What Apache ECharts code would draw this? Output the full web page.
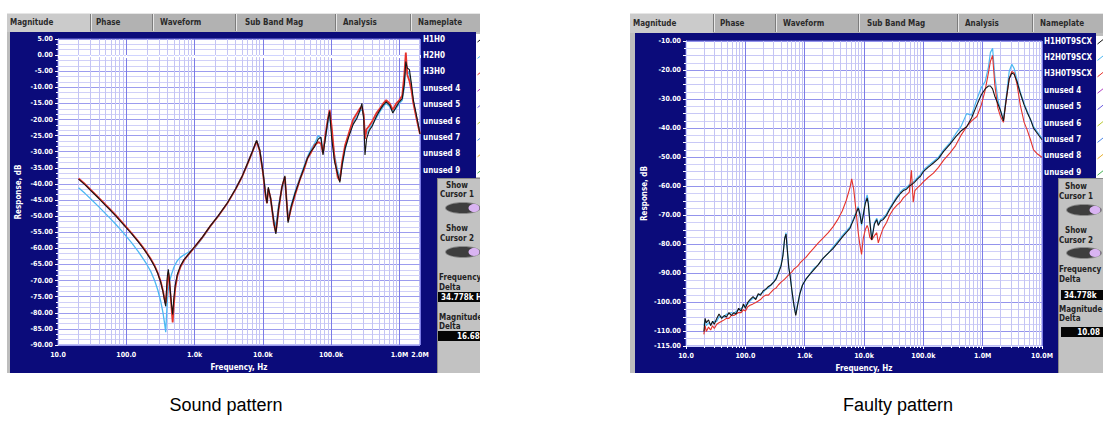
<!DOCTYPE html>
<html><head><meta charset="utf-8">
<script src="https://cdn.jsdelivr.net/npm/echarts@6/dist/echarts.min.js"></script>
<style>html,body{margin:0;padding:0;background:#fff}#c{width:1103px;height:425px}</style>
</head><body><div id="c"></div>
<script>
// ---------------- DATA ----------------
const tabNames = ['Magnitude', 'Phase', 'Waveform', 'Sub Band Mag', 'Analysis', 'Nameplate'];
const soundLegend = ['H1H0', 'H2H0', 'H3H0', 'unused 4', 'unused 5', 'unused 6', 'unused 7', 'unused 8', 'unused 9'];
const faultyLegend = ['H1H0T9SCX', 'H2H0T9SCX', 'H3H0T9SCX', 'unused 4', 'unused 5', 'unused 6', 'unused 7', 'unused 8', 'unused 9'];
const captions = ['Sound pattern', 'Faulty pattern'];
const cursorTexts = ['Show', 'Cursor 1', 'Cursor 2', 'Frequency', 'Magnitude', 'Delta'];
const soundReadouts = ['34.778k Hz', '16.68 dB'];
const faultyReadouts = ['34.778k', '10.08'];

const soundXTickValues = [10, 100, 1000, 10000, 100000, 1000000, 2000000];
const soundXTickLabels = ['10.0', '100.0', '1.0k', '10.0k', '100.0k', '1.0M', '2.0M'];
const faultyXTickValues = [10, 100, 1000, 10000, 100000, 1000000, 10000000];
const faultyXTickLabels = ['10.0', '100.0', '1.0k', '10.0k', '100.0k', '1.0M', '10.0M'];
const soundYTickValues = [5, 0, -5, -10, -15, -20, -25, -30, -35, -40, -45, -50, -55, -60, -65, -70, -75, -80, -85, -90];
const soundYTickLabels = ['5.00', '0.00', '-5.00', '-10.00', '-15.00', '-20.00', '-25.00', '-30.00', '-35.00', '-40.00', '-45.00', '-50.00', '-55.00', '-60.00', '-65.00', '-70.00', '-75.00', '-80.00', '-85.00', '-90.00'];
const faultyYTickValues = [-10, -20, -30, -40, -50, -60, -70, -80, -90, -100, -110, -115];
const faultyYTickLabels = ['-10.00', '-20.00', '-30.00', '-40.00', '-50.00', '-60.00', '-70.00', '-80.00', '-90.00', '-100.00', '-110.00', '-115.00'];

// Sound pattern (Hz, dB)
const soundFreq = [20,25,30,40,50,60,70,85,100,120,
 150,180,200,230,260,290,320,345,365,378,
 390,400,412,425,440,460,478,495,520,560,
 620,700,800,1000,1300,1700,2200,3000,4000,5000,
 6000,7000,8100,9000,10000,11000,11500,12000,13000,14500,
 15500,17000,19000,21000,23400,26000,30000,35000,40000,45000,
 50000,57000,65000,71000,76000,82000,90000,95000,102000,112000,
 125000,134000,145000,160000,180000,210000,240000,265000,282000,300000,
 313000,330000,360000,400000,460000,520000,580000,640000,720000,800000,
 900000,1000000,1100000,1180000,1240000,1300000,1400000,1500000,1600000,1750000,
 1900000,2000000];
const soundH1 = [-38.5,-40.3,-42.0,-44.6,-46.7,-48.4,-49.9,-51.9,-53.6,-55.5,
 -58.0,-60.2,-61.6,-63.6,-65.6,-67.9,-70.6,-73.5,-76.5,-78.0,
 -72.0,-68.5,-66.5,-69.0,-73.0,-77.5,-80.5,-76.0,-71.5,-68.0,
 -65.5,-63.5,-62.0,-59.5,-56.5,-53.0,-50.0,-46.0,-41.5,-37.5,
 -33.5,-30.0,-26.5,-29.5,-36.0,-43.5,-46.0,-41.0,-44.5,-52.0,
 -55.5,-47.5,-41.0,-37.5,-52.0,-47.0,-42.5,-38.5,-35.0,-32.0,
 -30.0,-28.5,-26.0,-25.5,-31.0,-26.0,-20.0,-17.5,-26.0,-33.0,
 -37.0,-39.5,-34.0,-29.0,-25.5,-21.5,-19.5,-17.0,-15.0,-20.0,
 -31.0,-26.0,-23.5,-22.0,-19.0,-17.0,-15.5,-14.5,-15.5,-18.0,
 -16.0,-14.5,-13.5,-9.0,-2.0,-4.0,-4.5,-9.0,-14.0,-18.0,
 -22.0,-24.5];
const soundH2 = [-41.2,-43.0,-44.6,-47.2,-49.3,-51.0,-52.5,-54.5,-56.3,-58.3,
 -61.0,-63.5,-65.0,-67.3,-70.0,-73.0,-76.5,-80.0,-83.5,-86.0,
 -80.0,-76.0,-73.0,-71.0,-69.5,-68.0,-67.0,-66.0,-65.0,-63.8,
 -62.8,-62.0,-61.3,-60.0,-56.8,-53.2,-50.1,-46.0,-41.4,-37.4,
 -33.4,-29.9,-26.5,-29.3,-35.5,-43.0,-45.0,-42.0,-45.0,-51.0,
 -53.0,-46.5,-41.5,-39.0,-50.5,-46.5,-42.0,-38.0,-34.5,-31.5,
 -29.5,-27.5,-25.0,-26.0,-29.5,-26.5,-21.0,-19.0,-24.5,-31.0,
 -36.0,-38.0,-34.5,-29.5,-25.0,-21.0,-19.0,-17.5,-16.5,-19.0,
 -24.0,-24.5,-23.0,-21.5,-19.5,-17.5,-16.0,-15.0,-16.0,-17.5,
 -16.5,-15.0,-14.0,-10.0,-3.0,-5.0,-6.0,-10.0,-14.5,-18.5,
 -22.0,-24.5];
const soundH3 = [-38.3,-40.1,-41.8,-44.4,-46.5,-48.2,-49.7,-51.7,-53.4,-55.3,
 -57.8,-60.0,-61.4,-63.4,-65.4,-67.7,-70.4,-73.2,-76.0,-77.0,
 -74.0,-70.5,-67.5,-69.5,-73.5,-78.5,-83.0,-78.0,-72.5,-68.5,
 -65.8,-63.7,-62.1,-59.6,-56.6,-53.1,-50.1,-46.1,-41.6,-37.6,
 -33.6,-30.1,-26.7,-29.8,-36.3,-44.0,-46.0,-41.5,-44.5,-52.5,
 -55.0,-48.0,-41.0,-37.8,-51.5,-47.5,-43.0,-38.5,-35.5,-32.0,
 -30.5,-28.0,-27.0,-27.5,-30.5,-25.0,-19.5,-17.0,-22.5,-32.0,
 -38.0,-39.0,-33.0,-28.0,-24.5,-20.0,-18.0,-16.5,-16.0,-18.5,
 -26.0,-23.0,-22.0,-20.5,-18.0,-16.5,-15.0,-14.0,-15.0,-17.0,
 -15.0,-14.0,-12.5,-6.0,0.8,-6.0,-8.0,-11.0,-15.0,-19.0,
 -22.5,-24.5];

// Faulty pattern (Hz, dB)
const faultyFreq = [20,21,22,24,26,28,30,33,36,40,
 44,48,53,58,64,70,77,85,93,100,
 110,120,135,150,165,180,200,220,245,270,
 300,330,360,400,430,460,485,510,540,570,
 610,660,708,760,830,920,1050,1200,1400,1700,
 2000,2500,3000,3600,4300,5000,5800,6200,6700,7300,
 8000,8500,9100,9700,10500,11300,11800,12500,13500,15000,
 16400,17400,19000,21000,24000,27000,31000,36000,41000,46000,
 52000,58000,63000,67500,72000,80000,90000,100000,120000,148000,
 180000,220000,282000,350000,430000,537000,650000,800000,950000,1100000,
 1250000,1350000,1470000,1600000,1800000,2000000,2240000,2500000,2800000,3100000,
 3400000,3800000,4300000,5000000,5600000,6400000,7200000,8500000,10000000];
const faultyH1 = [-110,-105.5,-107,-106,-108,-106.5,-107.5,-105.5,-104,-105.5,
 -104.5,-105,-103.5,-104.5,-103.5,-104,-102,-103,-100.5,-102,
 -100,-99,-98,-99,-97,-97.5,-96,-95.5,-94.5,-94,
 -93,-92,-90,-87.5,-84,-78,-76.5,-82,-88,-91,
 -96,-101,-104.5,-101,-97,-94,-92,-90.5,-89,-87,
 -85,-83,-81.5,-79.5,-77.5,-76,-74.5,-73,-71.5,-69.5,
 -67.5,-69.5,-73,-70,-66,-64,-66,-72,-78.5,-73,
 -71.5,-73.5,-72,-71.5,-70,-68,-66,-64,-62.5,-61.5,
 -61,-60,-59.5,-59,-58.5,-57.5,-56.5,-55,-53.5,-52,
 -50.5,-48,-45.5,-43,-41,-39.5,-36.5,-32,-28.5,-26.5,
 -25.5,-25.5,-26.5,-29,-31.5,-34,-37.5,-30,-23,-21,
 -21.5,-24,-28,-32,-34.5,-37,-40,-42,-44];
const faultyH2 = [-108,-106,-108,-107,-107.5,-107,-106.5,-106.5,-105,-105,
 -105,-104,-104,-103.5,-104,-103,-102.5,-102,-101.5,-101,
 -100.5,-99.5,-98.5,-98.5,-97.5,-97,-96.5,-95.5,-95,-94,
 -93,-91.5,-89.5,-87,-83.5,-78,-76,-81.5,-88,-91,
 -96,-101,-104,-100.5,-97,-94,-92,-90.5,-88.5,-87,
 -85,-83,-81,-79,-77,-75.5,-74,-72.5,-71,-69,
 -67,-69,-73.5,-69.5,-65.5,-63,-65,-71.5,-78,-72.5,
 -71,-73,-71.5,-71,-69.5,-67.5,-65.5,-63.5,-62,-61,
 -60.5,-59.5,-59,-58.5,-58,-57,-56,-54.5,-53,-51.5,
 -50,-47.5,-45,-42,-39.5,-35,-35.5,-30,-26,-24,
 -19,-14,-12.5,-22,-30,-34,-37,-29,-20.5,-18,
 -19.5,-23.5,-27.5,-31.5,-34,-37,-39.5,-41.5,-43.5];
const faultyH3 = [-111,-108,-110,-108.5,-109.5,-108,-109,-107.5,-107,-106.5,
 -106,-105.5,-105.5,-104.5,-104.5,-104,-103.5,-103.5,-102.5,-103,
 -101.5,-101,-100.5,-100,-99.5,-99,-98,-97.5,-97.5,-96.5,
 -95.5,-95,-94,-93,-92.5,-92,-91.5,-91,-90.5,-90,
 -89.5,-88.5,-88,-87.5,-86.5,-85.5,-84.5,-83,-81.5,-79.5,
 -78,-76,-74,-71.5,-68.5,-65,-60.5,-57.5,-61,-68,
 -76,-80,-83.5,-78,-75,-73.5,-74.5,-77.5,-78.5,-77,
 -76,-79.5,-77,-74.5,-72.5,-70,-68,-66.5,-65.5,-64,
 -63,-62,-54.5,-65.5,-61.5,-60.5,-59.5,-58.5,-57,-55.5,
 -53.5,-51,-48.5,-46,-42.5,-39.5,-37.5,-36,-32,-27,
 -21,-17,-15,-25,-33,-36,-38,-30,-23,-20.5,
 -21,-25,-32,-38,-40.5,-44,-47.5,-49,-50];

// ---------------- STYLE / LAYOUT ----------------
const FONT = '"DejaVu Sans Condensed","DejaVu Sans",sans-serif';
const NAVY = '#0b0b7a';
const FRAME = '#bdbdbd';
const C_BLACK = '#151515', C_BLUE = '#4cb8f2', C_RED = '#e5332c';
const legendIconColors = ['#111', '#4cb8f2', '#e5332c', '#b040c0', '#6a5ae0', '#b8c830', '#4a86e8', '#e8b030', '#40b050'];

const layouts = [
  { fx: 7, right: 480, tabTop: 13, tabBot: 32, navyX: 10, legendRight: 476, panelX: 437, bottom: 373, selRight: 90,
    tabX: [10, 96, 160, 245, 343, 418], seps: [90, 152, 235, 335, 410],
    legX: 423, legY0: 39, iconX: 476,
    cx: 457, ovalCx: 463, ovalY: [208, 252], showY: [185, 228], curY: [194, 238],
    textX: 439, freqY: [277, 287], boxY: [292, 331], magY: [317, 326], boxX: 438,
    readX: [441, 493], readout: soundReadouts, caption: captions[0], capX: 226 },
  { fx: 630, right: 1103, tabTop: 13, tabBot: 33, navyX: 635, legendRight: 1096, panelX: 1058, bottom: 373, selRight: 713,
    tabX: [633, 720, 783, 867, 965, 1040], seps: [713, 775, 858, 957, 1032],
    legX: 1044, legY0: 41, iconX: 1096,
    cx: 1076, ovalCx: 1084, ovalY: [210, 253], showY: [186, 230], curY: [196, 240],
    textX: 1059, freqY: [269, 279], boxY: [290, 327], magY: [309, 318], boxX: 1061,
    readX: [1064, 1100], readout: faultyReadouts, caption: captions[1], capX: 898 }
];

const G = [];
function R(x, y, w, h, fill, z) { G.push({ type: 'rect', silent: true, z: z === undefined ? -20 : z, shape: { x, y, width: w, height: h }, style: { fill } }); }
function T(x, y, s, o) {
  o = o || {};
  G.push({ type: 'text', silent: true, z: o.z === undefined ? 20 : o.z, x, y,
    style: { text: s, fill: o.fill || '#fff', font: o.font || ('bold 8px ' + FONT),
      textAlign: o.align || 'left', align: o.align || 'left', textVerticalAlign: 'middle', verticalAlign: 'middle' } });
}
function L(x1, y1, x2, y2, stroke, w, z) { G.push({ type: 'line', silent: true, z: z === undefined ? -15 : z, shape: { x1, y1, x2, y2 }, style: { stroke, lineWidth: w || 1 } }); }
function E(cx, cy, rx, ry, fill) { G.push({ type: 'ellipse', silent: true, z: -14, shape: { cx, cy, rx, ry }, style: { fill } }); }

layouts.forEach((p, k) => {
  const legend = k === 0 ? soundLegend : faultyLegend;
  // frame and tab bar
  R(p.fx, p.tabTop, p.right - p.fx, p.bottom - p.tabTop, FRAME, -30);
  R(p.fx, p.tabTop, p.right - p.fx, p.tabBot - p.tabTop, '#b2b2b2', -29);
  R(p.fx, p.tabTop, p.selRight - p.fx, p.tabBot - p.tabTop, '#cbcbcb', -28);
  L(p.fx, p.tabTop + 0.5, p.right, p.tabTop + 0.5, '#e6e6e6', 1, -27);
  p.seps.forEach(s => { L(s + 0.5, p.tabTop + 1, s + 0.5, p.tabBot - 1, '#7c7c7c', 1, -27); L(s + 1.5, p.tabTop + 1, s + 1.5, p.tabBot - 1, '#e8e8e8', 1, -27); });
  tabNames.forEach((t, i) => T(p.tabX[i], (p.tabTop + p.tabBot) / 2, t, { fill: '#2a2a2a' }));
  // navy background
  R(p.navyX, p.tabBot, p.legendRight - p.navyX, 178 - p.tabBot, NAVY, -25);
  R(p.navyX, p.tabBot, p.panelX - p.navyX, p.bottom - p.tabBot, NAVY, -25);
  R(p.panelX, 178, p.right - p.panelX, p.bottom - 178, '#c2c2c2', -24);
  L(p.panelX + 0.5, 178, p.panelX + 0.5, p.bottom, '#8a8a8a', 1, -23);
  L(p.panelX, 178.5, p.right, 178.5, '#8a8a8a', 1, -23);
  // legend
  R(p.iconX, p.legY0 - 5, 12, 143, '#ffffff', -24);
  legend.forEach((name, i) => {
    const y = p.legY0 + 16.4 * i;
    T(p.legX, y, name, { font: 'bold 8px ' + FONT });
    L(p.iconX + 1.5, y + 3, p.iconX + 9, y - 3, legendIconColors[i], 1, -14);
  });
  // cursor widgets
  [0, 1].forEach(j => {
    T(p.cx, p.showY[j], cursorTexts[0], { fill: '#222', align: 'center' });
    T(p.cx, p.curY[j], cursorTexts[1 + j], { fill: '#222', align: 'center' });
    E(p.ovalCx, p.ovalY[j], 18, 6, '#8a8a8a');
    E(p.ovalCx, p.ovalY[j], 17, 5, '#3e3e3e');
    E(p.ovalCx + 11, p.ovalY[j], 5.5, 4, '#d9b4f2');
  });
  T(p.textX, p.freqY[0], cursorTexts[3], { fill: '#222' });
  T(p.textX, p.freqY[1], cursorTexts[5], { fill: '#222' });
  T(p.textX, p.magY[0], cursorTexts[4], { fill: '#222' });
  T(p.textX, p.magY[1], cursorTexts[5], { fill: '#222' });
  R(p.boxX, p.boxY[0], 60, 10, '#050505', -14);
  R(p.boxX, p.boxY[1], 60, 10, '#050505', -14);
  T(p.readX[0], p.boxY[0] + 5, p.readout[0]);
  T(p.readX[1], p.boxY[1] + 5, p.readout[1], { align: 'right' });
  // caption
  T(p.capX, 405, p.caption, { fill: '#000', align: 'center', font: '18px "Liberation Sans", Arial, sans-serif' });
});
// crop of the left screenshot
R(480, 0, 150, 385, '#ffffff', 1000);

// ---------------- AXES ----------------
function lookup(vals, labels) {
  return v => { const i = vals.findIndex(t => Math.abs(t - v) <= Math.abs(t) * 1e-6 + 1e-9); return i >= 0 ? labels[i] : ''; };
}
function xAxis(gi, max, vals, labels) {
  return {
    type: 'log', logBase: 10, gridIndex: gi, min: 10, max,
    name: 'Frequency, Hz', nameLocation: 'middle', nameGap: 18,
    nameTextStyle: { color: '#fff', fontFamily: FONT, fontWeight: 'bold', fontSize: 8 },
    axisLine: { show: true, lineStyle: { color: '#d0d4ff', width: 1 } },
    axisTick: { show: true, length: 3, lineStyle: { color: '#fff' } },
    minorTick: { show: true, splitNumber: 9, length: 2, lineStyle: { color: '#fff' } },
    axisLabel: { color: '#fff', fontFamily: FONT, fontWeight: 'bold', fontSize: 7, margin: 6,
      showMaxLabel: true, showMinLabel: true, formatter: lookup(vals, labels) },
    splitLine: { show: true, lineStyle: { color: '#7c7ce6', width: 1 } },
    minorSplitLine: { show: true, lineStyle: { color: '#c4c4f4', width: 1 } }
  };
}
function yAxis(gi, min, max, vals, labels, gap, majorColors, minorSplit) {
  return {
    type: 'value', gridIndex: gi, min, max, interval: 5,
    name: 'Response, dB', nameLocation: 'middle', nameGap: gap, nameRotate: 90,
    nameTextStyle: { color: '#fff', fontFamily: FONT, fontWeight: 'bold', fontSize: 8 },
    axisLine: { show: true, lineStyle: { color: '#d0d4ff', width: 1 } },
    axisTick: { show: true, length: 3, lineStyle: { color: '#fff' } },
    minorTick: { show: true, splitNumber: minorSplit, length: 2, lineStyle: { color: '#fff' } },
    axisLabel: { color: '#fff', fontFamily: FONT, fontWeight: 'bold', fontSize: 7, margin: 5,
      showMaxLabel: true, showMinLabel: true, formatter: lookup(vals, labels) },
    splitLine: { show: true, lineStyle: { color: majorColors, width: 1 } },
    minorSplitLine: { show: true, lineStyle: { color: '#d0d0f8', width: 1 } }
  };
}
function line(name, xi, freq, vals, color, w) {
  return { name, type: 'line', xAxisIndex: xi, yAxisIndex: xi, showSymbol: false, symbol: 'none',
    data: freq.map((f, i) => [f, vals[i]]), lineStyle: { color, width: w }, itemStyle: { color }, z: 3 };
}

const option = {
  animation: false,
  backgroundColor: '#ffffff',
  grid: [
    { left: 58, top: 39, width: 362, height: 306, show: true, backgroundColor: '#ffffff', borderColor: '#7c7ce6', borderWidth: 1 },
    { left: 686, top: 41, width: 356, height: 305, show: true, backgroundColor: '#ffffff', borderColor: '#7c7ce6', borderWidth: 1 }
  ],
  xAxis: [
    xAxis(0, 2000000, soundXTickValues, soundXTickLabels),
    xAxis(1, 10000000, faultyXTickValues, faultyXTickLabels)
  ],
  yAxis: [
    yAxis(0, -90, 5, soundYTickValues, soundYTickLabels, 36, '#9c9cee', 3),
    yAxis(1, -115, -10, faultyYTickValues, faultyYTickLabels, 38, ['#c8c8f6', '#9494ec'], 2)
  ],
  series: [
    line(soundLegend[1], 0, soundFreq, soundH2, C_BLUE, 1.3),
    line(soundLegend[2], 0, soundFreq, soundH3, C_RED, 1.8),
    line(soundLegend[0], 0, soundFreq, soundH1, C_BLACK, 1.1),
    line(faultyLegend[1], 1, faultyFreq, faultyH2, C_BLUE, 1.2),
    line(faultyLegend[2], 1, faultyFreq, faultyH3, C_RED, 1.1),
    line(faultyLegend[0], 1, faultyFreq, faultyH1, C_BLACK, 1.1)
  ],
  graphic: { elements: G }
};
const chart = echarts.init(document.getElementById('c'), null, { renderer: 'svg', width: 1103, height: 425 });
chart.setOption(option);
</script>
</body></html>
